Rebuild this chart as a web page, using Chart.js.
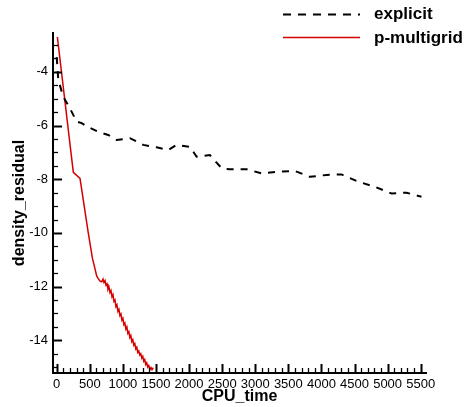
<!DOCTYPE html>
<html>
<head>
<meta charset="utf-8">
<script src="https://cdn.jsdelivr.net/npm/chart.js@4"></script>
<style>
  html, body { margin: 0; padding: 0; background: #fff; }
  #wrap { position: relative; width: 466px; height: 407px; }
  #legend { position: absolute; left: 0; top: 0; width: 466px; height: 50px; pointer-events: none;
            font-family: "Liberation Sans", Arial, Helvetica, sans-serif; font-weight: bold; font-size: 17px; color: #000; }
  #legend .lbl { position: absolute; left: 374px; line-height: 17px; white-space: nowrap; }
  #legend svg { position: absolute; left: 0; top: 0; }
</style>
</head>
<body>
<div id="wrap">
  <canvas id="c" width="466" height="407"></canvas>
  <div id="legend">
    <svg width="466" height="50">
      <line x1="283" y1="14.5" x2="360" y2="14.5" stroke="#000" stroke-width="2" stroke-dasharray="8,7"/>
      <line x1="283" y1="37.5" x2="360" y2="37.5" stroke="#d40000" stroke-width="1.5"/>
    </svg>
    <div class="lbl" id="lbl0" style="top:5px">explicit</div>
    <div class="lbl" id="lbl1" style="top:29px">p-multigrid</div>
  </div>
</div>
<script>
// ---- data ----
const seriesNames = ["explicit", "p-multigrid"];

const explicitTime = [0, 24, 100, 171, 227, 302, 378, 462, 628, 779, 906, 1107, 1308, 1510, 1685, 1808, 2013, 2114, 2315, 2492, 2617, 2869, 3096, 3322, 3598, 3825, 4077, 4304, 4554, 4806, 5059, 5285, 5512];
const explicitResidual = [-3.45, -4.30, -4.93, -5.23, -5.49, -5.85, -5.91, -6.04, -6.23, -6.35, -6.54, -6.47, -6.72, -6.81, -6.91, -6.72, -6.79, -7.16, -7.10, -7.59, -7.63, -7.63, -7.78, -7.72, -7.69, -7.91, -7.84, -7.82, -8.09, -8.28, -8.53, -8.50, -8.65];

const multigridTime = [10, 251, 352, 402, 477, 540, 578, 604, 628, 654, 680, 700, 715, 730, 745, 760, 775, 790, 805, 820, 835, 850, 865, 880, 895, 910, 925, 940, 955, 970, 985, 1000, 1015, 1030, 1045, 1060, 1075, 1090, 1105, 1120, 1135, 1150, 1165, 1180, 1195, 1210, 1225, 1240, 1255, 1270, 1285, 1300, 1315, 1330, 1345, 1360, 1375, 1390, 1410, 1425, 1440, 1460];
const multigridResidual = [-2.70, -7.74, -7.97, -8.78, -10.00, -10.95, -11.33, -11.60, -11.70, -11.80, -11.82, -11.72, -11.85, -11.78, -11.95, -11.90, -12.10, -12.02, -12.22, -12.15, -12.38, -12.30, -12.55, -12.50, -12.75, -12.68, -12.92, -12.85, -13.08, -13.02, -13.25, -13.18, -13.42, -13.36, -13.58, -13.50, -13.74, -13.68, -13.90, -13.82, -14.05, -13.98, -14.18, -14.12, -14.32, -14.26, -14.45, -14.40, -14.55, -14.50, -14.66, -14.60, -14.78, -14.72, -14.90, -14.84, -15.00, -14.94, -15.08, -15.02, -15.10, -15.02];

const xMajorTicks = [0, 500, 1000, 1500, 2000, 2500, 3000, 3500, 4000, 4500, 5000, 5500];
const yMajorTicks = [-14, -12, -10, -8, -6, -4];
const xTitle = "CPU_time";
const yTitle = "density_residual";

// ---- build ----
const toPts = (xs, ys) => xs.map((x, i) => ({ x: x, y: ys[i] }));
const FONT = "'Liberation Sans', Arial, Helvetica, sans-serif";

const innerTicks = {
  id: 'innerTicks',
  afterDraw(chart) {
    const ctx = chart.ctx;
    const xs = chart.scales.x, ys = chart.scales.y;
    const bottom = chart.chartArea.bottom, left = chart.chartArea.left;
    ctx.save();
    ctx.strokeStyle = '#000';
    // x ticks (every 100, major every 500)
    for (let v = 0; v <= xs.max; v += 100) {
      const major = xMajorTicks.includes(v);
      const p = Math.round(xs.getPixelForValue(v)) + 0.5;
      ctx.lineWidth = major ? 2 : 1.3;
      ctx.beginPath();
      ctx.moveTo(p, bottom);
      ctx.lineTo(p, bottom - (major ? 9 : 5));
      ctx.stroke();
    }
    // y ticks (every 0.5, major every 2)
    for (let v = Math.ceil(ys.min * 2) / 2; v <= ys.max; v += 0.5) {
      const major = yMajorTicks.includes(v);
      const p = Math.round(ys.getPixelForValue(v)) + 0.5;
      ctx.lineWidth = major ? 2 : 1.3;
      ctx.beginPath();
      ctx.moveTo(left, p);
      ctx.lineTo(left + (major ? 9 : 5), p);
      ctx.stroke();
    }
    ctx.restore();
  }
};

new Chart(document.getElementById('c'), {
  type: 'scatter',
  data: {
    datasets: [
      {
        label: seriesNames[0],
        data: toPts(explicitTime, explicitResidual),
        showLine: true,
        borderColor: '#000',
        backgroundColor: '#000',
        borderWidth: 2,
        borderDash: [7, 7],
        pointRadius: 0,
        tension: 0
      },
      {
        label: seriesNames[1],
        data: toPts(multigridTime, multigridResidual),
        showLine: true,
        borderColor: '#d40000',
        backgroundColor: '#d40000',
        borderWidth: 1.5,
        pointRadius: 0,
        tension: 0
      }
    ]
  },
  options: {
    responsive: false,
    animation: false,
    layout: { padding: { top: 33, right: 40, left: 0, bottom: 0 } },
    plugins: { legend: { display: false }, tooltip: { enabled: false } },
    scales: {
      x: {
        type: 'linear',
        min: -56,
        max: 5580,
        afterBuildTicks: (s) => { s.ticks = xMajorTicks.map(v => ({ value: v })); },
        afterFit: (s) => { s.height = 34; },
        grid: { display: false, drawTicks: false },
        border: { display: true, color: '#000', width: 2 },
        ticks: {
          padding: 4,
          color: '#000',
          maxRotation: 0,
          minRotation: 0,
          autoSkip: false,
          font: { family: FONT, size: 13 },
          callback: (v) => String(v)
        },
        title: {
          display: true,
          text: xTitle,
          color: '#000',
          font: { family: FONT, size: 16, weight: 'bold' },
          padding: { top: 0, bottom: 1 }
        }
      },
      y: {
        type: 'linear',
        min: -15.22,
        max: -2.55,
        afterBuildTicks: (s) => { s.ticks = yMajorTicks.map(v => ({ value: v })); },
        afterFit: (s) => { s.width = 53; },
        grid: { display: false, drawTicks: false },
        border: { display: true, color: '#000', width: 2 },
        ticks: {
          padding: 5,
          color: '#000',
          autoSkip: false,
          font: { family: FONT, size: 13 },
          callback: (v) => String(v)
        },
        title: {
          display: true,
          text: yTitle,
          color: '#000',
          font: { family: FONT, size: 16, weight: 'bold' },
          padding: { top: 10, bottom: 0 }
        }
      }
    }
  },
  plugins: [innerTicks]
});
</script>
</body>
</html>
